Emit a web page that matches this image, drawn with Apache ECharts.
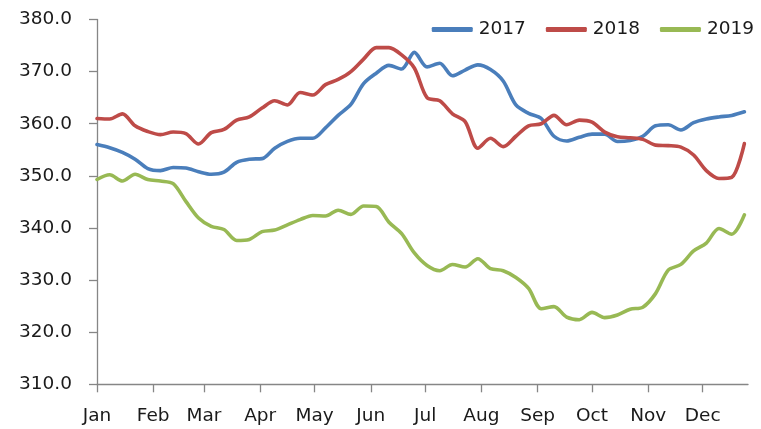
<!DOCTYPE html>
<html>
<head>
<meta charset="utf-8">
<script src="https://cdn.jsdelivr.net/npm/echarts@6/dist/echarts.min.js"></script>
<style>
  html, body { margin: 0; padding: 0; background: #fff; }
  #chart { width: 761px; height: 429px; }
</style>
</head>
<body>
<div id="chart"></div>
<script>
// Day-of-year of each weekly observation
const days = [0,7,14,21,28,35,42,49,56,63,70,77,84,91,98,105,112,119,126,133,140,147,154,161,168,175,182,189,196,203,210,217,224,231,238,245,252,259,266,273,280,287,294,301,308,315,322,329,336,343,350,357];

const series2017 = [356.0,355.4,354.5,353.2,351.4,351.0,351.6,351.5,350.8,350.3,350.7,352.6,353.2,353.3,355.3,356.6,357.2,357.2,359.2,361.6,363.7,367.7,369.7,371.2,370.5,373.7,370.9,371.6,369.2,370.3,371.3,370.4,368.2,363.6,362.0,361.0,357.6,356.7,357.4,358.0,358.0,356.6,356.8,357.6,359.6,359.8,358.8,360.2,360.9,361.3,361.6,362.3];

const series2018 = [361.0,360.9,361.9,359.6,358.5,357.9,358.4,358.1,356.1,358.3,358.9,360.7,361.3,363.0,364.4,363.6,366.0,365.5,367.5,368.5,370.0,372.4,374.6,374.6,373.2,370.7,365.0,364.4,361.9,360.4,355.3,357.2,355.6,357.6,359.6,360.0,361.6,359.8,360.7,360.3,358.4,357.5,357.3,357.0,355.9,355.8,355.5,354.0,351.0,349.5,349.7,356.2];

const series2019 = [349.3,350.2,349.0,350.3,349.3,349.0,348.5,345.1,341.9,340.3,339.7,337.6,337.8,339.3,339.6,340.6,341.6,342.4,342.3,343.4,342.6,344.2,344.1,341.1,338.9,335.2,332.8,331.8,333.0,332.5,334.1,332.2,331.8,330.5,328.4,324.5,324.9,322.9,322.4,323.8,322.8,323.3,324.4,324.8,327.4,331.9,333.0,335.6,337.1,339.9,338.8,342.5];

const seriesNames = ['2017', '2018', '2019'];
const monthStarts = [0,31,59,90,120,151,181,212,243,273,304,334];
const monthLabels = ['Jan','Feb','Mar','Apr','May','Jun','Jul','Aug','Sep','Oct','Nov','Dec'];
const yTicks = [310,320,330,340,350,360,370,380];

const colors = ['#4a7ebb', '#be4b48', '#98b954'];
const FONT = 'DejaVu Sans';
const FS = 18.5;

const chart = echarts.init(document.getElementById('chart'), null, { renderer: 'canvas' });

function pairs(vals) { return days.map((d, i) => [d, vals[i]]); }

const allVals = [series2017, series2018, series2019];

chart.setOption({
  animation: false,
  backgroundColor: '#ffffff',
  color: colors,
  grid: { left: 97, right: 13, top: 19.5, bottom: 44.7, containLabel: false },
  legend: {
    right: 2,
    top: 15,
    itemWidth: 41,
    itemHeight: 5,
    itemGap: 20,
    icon: 'roundRect',
    textStyle: { fontFamily: FONT, fontSize: FS, color: '#1a1a1a', padding: [0, 0, 0, 1] },
    data: seriesNames
  },
  xAxis: {
    type: 'value',
    min: 0,
    max: 359,
    axisLine: { show: true, lineStyle: { color: '#868686', width: 1.3 } },
    axisTick: { show: true, length: 8, customValues: monthStarts, lineStyle: { color: '#868686', width: 1.3 } },
    axisLabel: {
      customValues: monthStarts,
      margin: 22,
      fontFamily: FONT,
      fontSize: FS,
      color: '#1a1a1a',
      formatter: function (v) {
        const i = monthStarts.indexOf(Math.round(v));
        return i >= 0 ? monthLabels[i] : '';
      }
    },
    splitLine: { show: false }
  },
  yAxis: {
    type: 'value',
    min: yTicks[0],
    max: yTicks[yTicks.length - 1],
    interval: 10,
    axisLine: { show: true, lineStyle: { color: '#868686', width: 1.3 } },
    axisTick: { show: true, length: 8, lineStyle: { color: '#868686', width: 1.3 } },
    axisLabel: {
      margin: 25,
      fontFamily: FONT,
      fontSize: FS,
      color: '#1a1a1a',
      formatter: function (v) { return v.toFixed(1); }
    },
    splitLine: { show: false }
  },
  series: seriesNames.map((name, i) => ({
    name: name,
    type: 'line',
    data: pairs(allVals[i]),
    symbol: 'none',
    smooth: 0.3,
    lineStyle: { width: 3.6, color: colors[i], cap: 'round', join: 'round' },
    itemStyle: { color: colors[i] }
  }))
});
</script>
</body>
</html>
